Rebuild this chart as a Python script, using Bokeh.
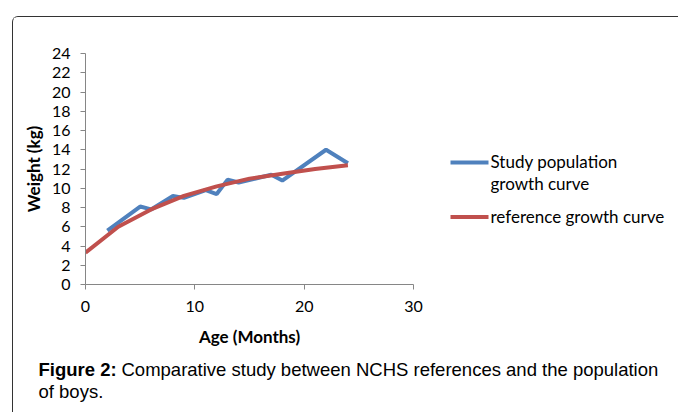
from bokeh.plotting import figure
from bokeh.layouts import row, column
from bokeh.models import Range1d, FixedTicker
from bokeh.core.properties import value
from bokeh.embed import file_html
from bokeh.resources import INLINE

# Data
study_age = [2, 5, 6, 8, 9, 11, 12, 13, 14, 17, 18, 22, 24]
study_weight = [5.6, 8.1, 7.8, 9.2, 9.0, 9.8, 9.4, 10.9, 10.6, 11.4, 10.8, 14.0, 12.6]
ref_age = [0, 3, 6, 9, 12, 15, 18, 21, 24]
ref_weight = [3.3, 6.0, 7.8, 9.2, 10.2, 11.0, 11.5, 12.0, 12.4]
y_ticks = list(range(0, 25, 2))
x_ticks = [0, 10, 20, 30]
legend_labels = ["Study population", "growth curve", "reference growth  curve"]
caption_bold = "Figure 2:"
caption_line1 = "Comparative study between NCHS references and the population"
caption_line2 = "of boys."

BLUE = "#4F81BD"
RED = "#C0504D"
AXIS = "#868686"
FONT = "Lato"

# ---- main chart ----
p = figure(width=430, height=333, output_backend="svg", toolbar_location=None,
           x_range=Range1d(0, 30), y_range=Range1d(0, 24),
           min_border_left=72, min_border_right=30, min_border_top=36, min_border_bottom=66)
p.outline_line_color = None
p.xgrid.visible = False
p.ygrid.visible = False

for ax in (p.xaxis[0], p.yaxis[0]):
    ax.axis_line_color = AXIS
    ax.major_tick_line_color = AXIS
    ax.minor_tick_line_color = None
    ax.major_tick_in = 0
    ax.major_tick_out = 5
    ax.major_label_text_font = FONT
    ax.major_label_text_font_size = "16px"
    ax.major_label_text_color = "#000000"
    ax.axis_label_text_font = FONT
    ax.axis_label_text_font_style = "bold"
    ax.axis_label_text_font_size = "17px"
    ax.axis_label_text_color = "#000000"

p.yaxis.ticker = FixedTicker(ticks=y_ticks)
p.xaxis.ticker = FixedTicker(ticks=x_ticks)
p.yaxis.major_label_standoff = 10
p.xaxis.major_label_standoff = 11
p.yaxis.axis_label = "Weight (kg)"
p.xaxis.axis_label = "Age (Months)"
p.yaxis.axis_label_standoff = 5
p.xaxis.axis_label_standoff = 11

p.line(study_age, study_weight, line_color=BLUE, line_width=4)
p.line(ref_age, ref_weight, line_color=RED, line_width=4)

# ---- legend panel (frame aligned with the chart frame; coordinates in page pixels) ----
lg = figure(width=235, height=333, output_backend="svg", toolbar_location=None,
            x_axis_type=None, y_axis_type=None,
            min_border_left=0, min_border_right=0, min_border_top=36, min_border_bottom=66,
            x_range=Range1d(443, 678), y_range=Range1d(284, 53))
lg.outline_line_color = None
lg.segment(x0=[450, 450], y0=[162, 216.5], x1=[488, 488], y1=[162, 216.5],
           line_color=[BLUE, RED], line_width=4)
lg.text(x=[490, 490, 490], y=[161, 183, 216], text=legend_labels,
        text_font=value(FONT), text_font_size="17px", text_baseline="middle",
        text_color="#000000")

# ---- caption panel ----
cp = figure(width=665, height=62, output_backend="svg", toolbar_location=None,
            x_axis_type=None, y_axis_type=None, min_border=0,
            x_range=Range1d(0, 665), y_range=Range1d(62, 0))
cp.outline_line_color = None
cp.text(x=[25], y=[19], text=[caption_bold], text_font=value("Liberation Sans"),
        text_font_style="bold", text_font_size="18.5px", text_baseline="middle",
        text_color="#000000")
cp.text(x=[108, 25], y=[19, 41], text=[caption_line1, caption_line2],
        text_font=value("Liberation Sans"), text_font_size="18.5px",
        text_baseline="middle", text_color="#000000")

layout = column(row(p, lg), cp, margin=(16, 0, 0, 12),
                styles={"border-top": "1px solid #333333",
                        "border-left": "1px solid #333333",
                        "border-top-left-radius": "6px"})

open("out.html", "w").write(file_html(layout, INLINE))
